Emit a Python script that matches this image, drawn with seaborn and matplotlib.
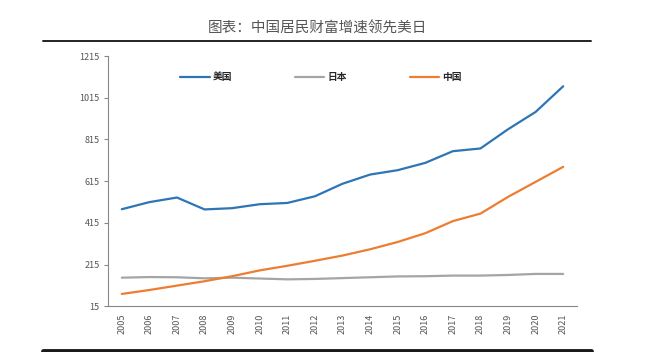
import matplotlib
matplotlib.use("Agg")
import matplotlib.pyplot as plt
import seaborn as sns
import pandas as pd
from matplotlib.lines import Line2D

years = list(range(2005, 2022))
usa = [481, 515, 537, 480, 486, 505, 511, 543, 603, 647, 668, 703, 759, 772, 864, 947, 1070]
japan = [153, 156, 155, 150, 153, 149, 145, 147, 151, 155, 159, 160, 163, 163, 166, 171, 171]
china = [75, 94, 115, 136, 160, 188, 210, 234, 259, 289, 324, 366, 424, 460, 540, 612, 684]
series_names = ["美国", "日本", "中国"]
colors = ["#2E75B6", "#A5A5A5", "#ED7D31"]
yticks = list(range(15, 1216, 200))

sns.set_style("white")
plt.rcParams["font.family"] = ["Noto Sans CJK SC", "DejaVu Sans"]

df = pd.DataFrame({
    "year": years * 3,
    "value": usa + japan + china,
    "country": [n for n in series_names for _ in years],
})

fig = plt.figure(figsize=(6.61, 3.52), dpi=100)
ax = fig.add_axes([0.1634, 0.1293, 0.7095, 0.7116])

sns.lineplot(data=df, x="year", y="value", hue="country", palette=colors,
             hue_order=series_names, linewidth=1.6, ax=ax, legend=False)

ax.set_xlim(2004.5, 2021.5)
ax.set_ylim(15, 1215)
ax.set_yticks(yticks)
ax.set_yticklabels([str(v) for v in yticks], fontsize=6.5, color="#555555")
ax.set_xticks(years)
ax.set_xticklabels([str(y) for y in years], rotation=90, fontsize=6.5, color="#555555")
ax.set_xticks([y + 0.5 for y in [2004] + years], minor=True)
ax.tick_params(axis="x", which="major", length=0, pad=5)
ax.tick_params(axis="x", which="minor", length=3, color="#888888", direction="out")
ax.tick_params(axis="y", length=3, color="#888888", direction="out", pad=3, left=True)
ax.set_xlabel("")
ax.set_ylabel("")
for s in ["top", "right"]:
    ax.spines[s].set_visible(False)
for s in ["left", "bottom"]:
    ax.spines[s].set_color("#888888")
    ax.spines[s].set_linewidth(0.8)

handles = [Line2D([0], [0], color=c, lw=1.6) for c in colors]
ax.legend(handles, series_names, ncol=3, frameon=False, loc="center",
          bbox_to_anchor=(0.454, 0.916), fontsize=7, handlelength=3,
          handletextpad=0.3, columnspacing=6.5,
          prop={"weight": "bold", "size": 7})

fig.text(0.48, 0.918, "图表：中国居民财富增速领先美日", ha="center", va="center",
         fontsize=10.5, color="#555555")
fig.add_artist(Line2D([43 / 661, 591 / 661], [1 - 41 / 352, 1 - 41 / 352],
                      color="#222222", lw=1.4))
fig.add_artist(Line2D([43 / 661, 591 / 661], [1 - 351 / 352, 1 - 351 / 352],
                      color="#1a1a1a", lw=3.5))

fig.savefig("out.png", dpi=100)
